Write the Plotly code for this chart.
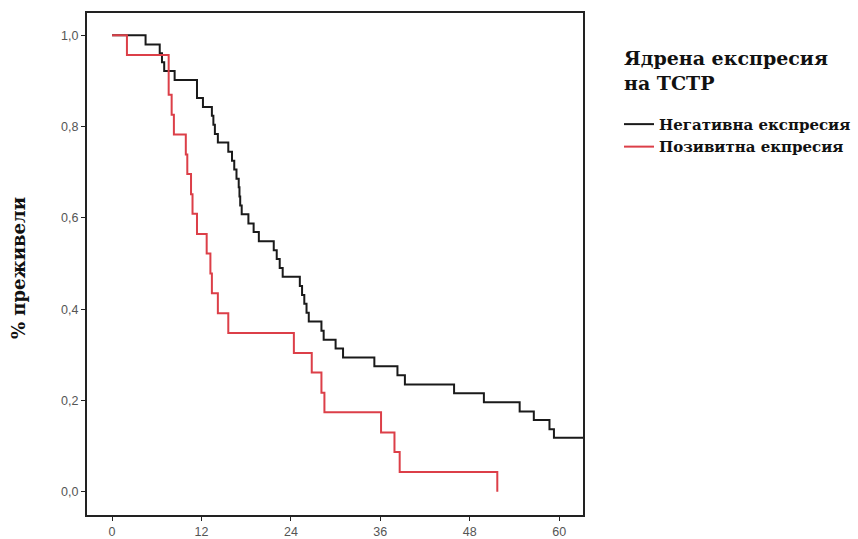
import plotly.graph_objects as go

# Kaplan-Meier survival data (months, survival proportion)
neg_t = [0, 4.5, 6.4, 6.7, 7.0, 8.4, 11.4, 12.2, 13.4, 13.6, 13.8, 14.2,
         15.6, 16.1, 16.4, 16.7, 17.0, 17.1, 17.2, 17.4, 18.3, 19.0, 19.7, 21.7,
         22.1, 22.5, 22.9, 25.2, 25.5, 25.8, 26.1, 26.4, 28.1, 28.4, 30.0, 31.0,
         35.2, 38.3, 39.3, 45.9, 49.9, 54.7, 56.6, 58.7, 59.3, 63.5]
neg_s = [1.000, 0.980, 0.961, 0.941, 0.922, 0.902, 0.863, 0.843, 0.824, 0.804, 0.784, 0.765,
         0.745, 0.725, 0.706, 0.686, 0.667, 0.647, 0.627, 0.608, 0.588, 0.569, 0.549, 0.529,
         0.510, 0.490, 0.471, 0.451, 0.431, 0.412, 0.392, 0.373, 0.353, 0.333, 0.314, 0.294,
         0.275, 0.255, 0.235, 0.216, 0.196, 0.176, 0.157, 0.137, 0.118, 0.118]

pos_t = [0, 2.0, 7.6, 8.0, 8.3, 9.9, 10.1, 10.6, 10.8, 11.4, 12.7, 13.2, 13.4,
         14.2, 15.6, 24.4, 26.8, 28.1, 28.5, 36.1, 37.9, 38.6, 51.7]
pos_s = [1.0, 0.957, 0.870, 0.826, 0.783, 0.739, 0.696, 0.652, 0.609, 0.565, 0.522, 0.478, 0.435,
         0.391, 0.348, 0.304, 0.261, 0.217, 0.174, 0.130, 0.087, 0.043, 0.0]

series_names = ["Негативна експресия", "Позивитна екпресия"]
legend_title = "Ядрена експресия<br>на ТСТР"
y_title = "% преживели"
x_ticks = [0, 12, 24, 36, 48, 60]
y_ticks = [0.0, 0.2, 0.4, 0.6, 0.8, 1.0]
y_tick_text = ["0,0", "0,2", "0,4", "0,6", "0,8", "1,0"]

x_range = [-3.36, 63.2]
y_range = [-0.051, 1.049]

fig = go.Figure()
fig.add_trace(go.Scatter(x=neg_t, y=neg_s, mode="lines", line_shape="hv",
                         line=dict(color="#1a1a1a", width=2),
                         name="<b>" + series_names[0] + "</b>"))
fig.add_trace(go.Scatter(x=pos_t, y=pos_s, mode="lines", line_shape="hv",
                         line=dict(color="#dc3f48", width=2),
                         name="<b>" + series_names[1] + "</b>"))

tickfont = dict(family="Liberation Sans, Arial", size=12.5, color="#555555")
serif = "DejaVu Serif, Liberation Serif, serif"

fig.update_layout(
    width=858, height=539,
    margin=dict(l=87, r=275, t=13, b=24, autoexpand=False),
    paper_bgcolor="white", plot_bgcolor="white",
    showlegend=True,
    legend=dict(
        x=1.0726, y=0.811, xanchor="left", yanchor="top",
        font=dict(family=serif, size=15, color="#111111"),
        tracegroupgap=0, itemwidth=30,
        bgcolor="rgba(0,0,0,0)",
    ),
    xaxis=dict(range=x_range, tickvals=x_ticks, ticktext=[str(v) for v in x_ticks],
               ticks="outside", ticklen=4, tickwidth=1.2, tickcolor="#222",
               showline=True, linecolor="#222", linewidth=2, mirror=True,
               showgrid=False, zeroline=False, tickfont=tickfont),
    yaxis=dict(range=y_range, tickvals=y_ticks, ticktext=y_tick_text,
               ticks="outside", ticklen=4, tickwidth=1.2, tickcolor="#222",
               showline=True, linecolor="#222", linewidth=2, mirror=True,
               showgrid=False, zeroline=False, tickfont=tickfont),
    xaxis2=dict(range=x_range, overlaying="x", tickvals=x_ticks, showticklabels=False,
                ticks="inside", ticklen=3, tickwidth=1.2, tickcolor="#222",
                showline=False, showgrid=False, zeroline=False, side="bottom"),
    yaxis2=dict(range=y_range, overlaying="y", tickvals=y_ticks, showticklabels=False,
                ticks="inside", ticklen=3, tickwidth=1.2, tickcolor="#222",
                showline=False, showgrid=False, zeroline=False, side="left"),
    annotations=[
        dict(text="<b>" + y_title + "</b>", xref="paper", yref="paper",
             x=-0.139, y=0.492, xanchor="center", yanchor="middle",
             textangle=-90, showarrow=False,
             font=dict(family=serif, size=18, color="#111111")),
        dict(text="<b>" + legend_title + "</b>", xref="paper", yref="paper",
             x=1.0786, y=0.936, xanchor="left", yanchor="top", align="left",
             showarrow=False,
             font=dict(family=serif, size=19, color="#111111")),
    ],
)

fig.write_html("out.html")
